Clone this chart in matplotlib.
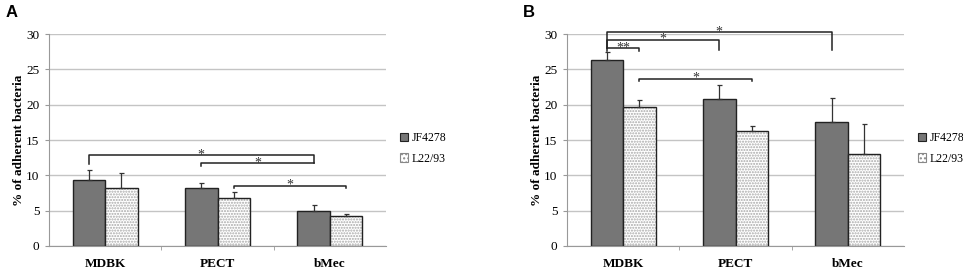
import matplotlib
matplotlib.use("Agg")
import matplotlib.pyplot as plt
from matplotlib.patches import Patch

# cell lines on the x axis
categories = ["MDBK", "PECT", "bMec"]
strains = ["JF4278", "L22/93"]

# panel A: mean % adherent bacteria and upper error
a_jf = [9.33, 8.25, 5.0]
a_jf_err = [1.4, 0.65, 0.85]
a_l22 = [8.25, 6.8, 4.3]
a_l22_err = [2.05, 0.9, 0.3]

# panel B
b_jf = [26.3, 20.8, 17.6]
b_jf_err = [1.1, 2.0, 3.3]
b_l22 = [19.7, 16.3, 13.0]
b_l22_err = [1.0, 0.7, 4.25]

# significance brackets: (cat1, strain1, cat2, strain2, level, left leg end, right leg end, label)
a_brackets = [
    (0, 0, 2, 0, 12.85, 11.6, 11.7, "*"),
    (1, 0, 2, 0, 11.75, 11.35, 11.7, "*"),
    (1, 1, 2, 1, 8.55, 8.2, 8.2, "*"),
]
b_brackets = [
    (0, 0, 2, 0, 30.3, 28.0, 27.7, "*"),
    (0, 0, 1, 0, 29.2, 28.0, 27.7, "*"),
    (0, 0, 0, 1, 28.0, 27.6, 27.6, "**"),
    (0, 1, 1, 1, 23.7, 23.4, 23.4, "*"),
]

SERIF = "Liberation Serif"
width = 0.29
offsets = [-width / 2, width / 2]


def draw_panel(ax, jf, jf_err, l22, l22_err, brackets, letter):
    x = list(range(len(categories)))
    xj = [i + offsets[0] for i in x]
    xl = [i + offsets[1] for i in x]

    ax.set_axisbelow(True)
    ax.yaxis.grid(True, color="#c4c4c4", linewidth=1)

    ax.bar(xj, jf, width, color="#767676", edgecolor="#222222", linewidth=1, zorder=2)
    # dotted fill for L22/93: hatch layer then black outline
    ax.bar(xl, l22, width, color="white", edgecolor="#a8a8a8", hatch="......",
           linewidth=0, zorder=2)
    ax.bar(xl, l22, width, color="none", edgecolor="#222222", linewidth=1, zorder=3)

    ax.errorbar(xj, jf, yerr=[[0] * 3, jf_err], fmt="none", ecolor="#333333",
                elinewidth=0.9, capsize=1.8, capthick=0.9, zorder=4)
    ax.errorbar(xl, l22, yerr=[[0] * 3, l22_err], fmt="none", ecolor="#333333",
                elinewidth=0.9, capsize=1.8, capthick=0.9, zorder=4)

    for c1, s1, c2, s2, lev, yl, yr, lab in brackets:
        x1 = c1 + offsets[s1]
        x2 = c2 + offsets[s2]
        ax.plot([x1, x1, x2, x2], [yl, lev, lev, yr], color="#222222",
                linewidth=1.1, clip_on=False, zorder=5)
        ax.text((x1 + x2) / 2, lev + 0.05, lab, ha="center", va="center",
                fontsize=10, fontfamily=SERIF, color="#333333", clip_on=False)

    ax.set_xlim(-0.5, 2.5)
    ax.set_ylim(0, 30)
    ax.set_yticks(range(0, 31, 5))
    ax.set_xticks(x)
    ax.set_xticklabels(categories, fontfamily=SERIF, fontweight="bold", fontsize=9.5)
    ax.set_xticks([0.5, 1.5], minor=True)
    ax.tick_params(axis="x", which="major", length=0, pad=9)
    ax.tick_params(axis="x", which="minor", length=3, color="#999999")
    ax.tick_params(axis="y", length=3, color="#999999", pad=4)
    for t in ax.get_yticklabels():
        t.set_fontfamily(SERIF)
        t.set_fontsize(9.5)
    ax.set_ylabel("% of adherent bacteria", fontfamily=SERIF, fontweight="bold",
                  fontsize=9.5, labelpad=1)

    for s in ["top", "right"]:
        ax.spines[s].set_visible(False)
    ax.spines["left"].set_color("#999999")
    ax.spines["bottom"].set_color("#999999")

    handles = [
        Patch(facecolor="#767676", edgecolor="#222222", linewidth=0.8),
        Patch(facecolor="white", edgecolor="#888888", hatch="....", linewidth=0.8),
    ]
    ax.legend(handles, strains, loc="center left", bbox_to_anchor=(1.01, 0.46),
              frameon=False, handlelength=0.7, handleheight=0.7,
              handletextpad=0.3, labelspacing=0.7,
              prop={"family": SERIF, "size": 8.5})

    ax.text(-0.13, 1.10, letter, transform=ax.transAxes, fontsize=12,
            fontweight="bold", fontfamily="Liberation Sans", va="center")


fig = plt.figure(figsize=(9.63, 2.72), dpi=100)
ax_a = fig.add_axes([0.0509, 0.0956, 0.35, 0.779])
ax_b = fig.add_axes([0.5888, 0.0956, 0.35, 0.779])

draw_panel(ax_a, a_jf, a_jf_err, a_l22, a_l22_err, a_brackets, "A")
draw_panel(ax_b, b_jf, b_jf_err, b_l22, b_l22_err, b_brackets, "B")

fig.savefig("out.png", dpi=100)
